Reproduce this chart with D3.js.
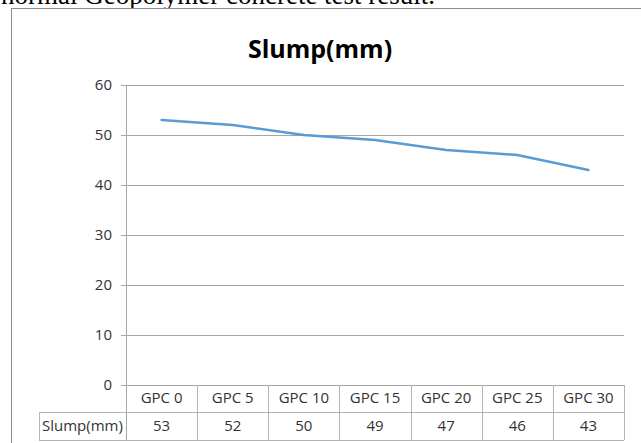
<!DOCTYPE html>
<html>
<head>
<meta charset="utf-8">
<script src="https://cdn.jsdelivr.net/npm/d3@7"></script>
<style>
  body { margin: 0; background: #fff; }
  svg { display: block; }
</style>
</head>
<body>
<div id="chart"></div>
<script>
// chart values
const categories = ["GPC 0", "GPC 5", "GPC 10", "GPC 15", "GPC 20", "GPC 25", "GPC 30"];
const slump = [53, 52, 50, 49, 47, 46, 43];
const yTicks = [0, 10, 20, 30, 40, 50, 60];
const seriesName = "Slump(mm)";

const W = 641, H = 443;
const plot = { left: 126, right: 624, top: 85, bottom: 385 };
const rowH = 27, row2H = 28;
const legendLeft = 39;
const labelFont = "'Open Sans', Calibri, sans-serif";
const textColor = "#333";

const svg = d3.select("#chart")
  .append("svg")
  .attr("width", W)
  .attr("height", H);

// caption text from the page, cut off at top
svg.append("text")
  .attr("x", 1)
  .attr("y", 4)
  .style("font-family", "'Liberation Serif', 'Times New Roman', serif")
  .style("font-size", "27px")
  .attr("fill", "#000")
  .text("normal Geopolymer concrete test result.");

// chart frame
svg.append("rect")
  .attr("x", 11.5)
  .attr("y", 8.5)
  .attr("width", 700)
  .attr("height", 500)
  .attr("fill", "#fff")
  .attr("stroke", "#8c8c8c")
  .attr("stroke-width", 1);

// title
svg.append("text")
  .attr("x", 320)
  .attr("y", 58)
  .attr("text-anchor", "middle")
  .style("font-family", labelFont)
  .style("font-size", "25px")
  .style("font-weight", "bold")
  .attr("fill", "#000")
  .text("Slump(mm)");

// scales
const x = d3.scaleBand()
  .domain(categories)
  .range([plot.left, plot.right]);

const y = d3.scaleLinear()
  .domain([0, 60])
  .range([plot.bottom, plot.top]);

// gridlines + y axis
const yAxis = svg.append("g")
  .attr("transform", "translate(" + plot.right + ",0)")
  .call(d3.axisLeft(y)
    .tickValues(yTicks)
    .tickSize(plot.right - plot.left + 5)
    .tickPadding(9));
yAxis.select(".domain").remove();
yAxis.selectAll(".tick line")
  .attr("stroke", "#a6a6a6")
  .attr("shape-rendering", "crispEdges");
yAxis.selectAll(".tick text")
  .style("font-family", labelFont)
  .style("font-size", "15px")
  .attr("fill", textColor);

const tableBottom = plot.bottom + rowH + row2H;

// vertical axis line, runs through data table
svg.append("line")
  .attr("x1", plot.left + 0.5).attr("x2", plot.left + 0.5)
  .attr("y1", plot.top).attr("y2", tableBottom)
  .attr("stroke", "#a6a6a6");

// data table
const table = svg.append("g");
const lineColor = "#b4b4b4";

// category boundaries
categories.forEach((c, i) => {
  table.append("line")
    .attr("x1", Math.round(x(c) + x.bandwidth()) + 0.5)
    .attr("x2", Math.round(x(c) + x.bandwidth()) + 0.5)
    .attr("y1", plot.bottom)
    .attr("y2", tableBottom)
    .attr("stroke", lineColor);
});
// row lines
table.append("line")
  .attr("x1", legendLeft).attr("x2", plot.right)
  .attr("y1", plot.bottom + rowH + 0.5).attr("y2", plot.bottom + rowH + 0.5)
  .attr("stroke", lineColor);
table.append("line")
  .attr("x1", legendLeft).attr("x2", plot.right)
  .attr("y1", tableBottom + 0.5).attr("y2", tableBottom + 0.5)
  .attr("stroke", lineColor);
table.append("line")
  .attr("x1", legendLeft + 0.5).attr("x2", legendLeft + 0.5)
  .attr("y1", plot.bottom + rowH).attr("y2", tableBottom)
  .attr("stroke", lineColor);

// category labels
table.selectAll(".cat")
  .data(categories)
  .enter()
  .append("text")
  .attr("x", d => x(d) + x.bandwidth() / 2)
  .attr("y", plot.bottom + 18)
  .attr("text-anchor", "middle")
  .style("font-family", labelFont)
  .style("font-size", "15px")
  .attr("fill", textColor)
  .text(d => d);

const row2Y = plot.bottom + rowH + 19;

// series name cell
table.append("text")
  .attr("x", legendLeft + 3)
  .attr("y", row2Y)
  .style("font-family", labelFont)
  .style("font-size", "15px")
  .attr("fill", textColor)
  .text(seriesName);

// values
table.selectAll(".val")
  .data(slump)
  .enter()
  .append("text")
  .attr("x", (d, i) => x(categories[i]) + x.bandwidth() / 2)
  .attr("y", row2Y)
  .attr("text-anchor", "middle")
  .style("font-family", labelFont)
  .style("font-size", "15px")
  .attr("fill", textColor)
  .text(d => d);

// the line
const line = d3.line()
  .x((d, i) => x(categories[i]) + x.bandwidth() / 2)
  .y(d => y(d));

svg.append("path")
  .datum(slump)
  .attr("d", line)
  .attr("fill", "none")
  .attr("stroke", "#5b9bd5")
  .attr("stroke-width", 2.5)
  .attr("stroke-linejoin", "round")
  .attr("stroke-linecap", "round");
</script>
</body>
</html>
